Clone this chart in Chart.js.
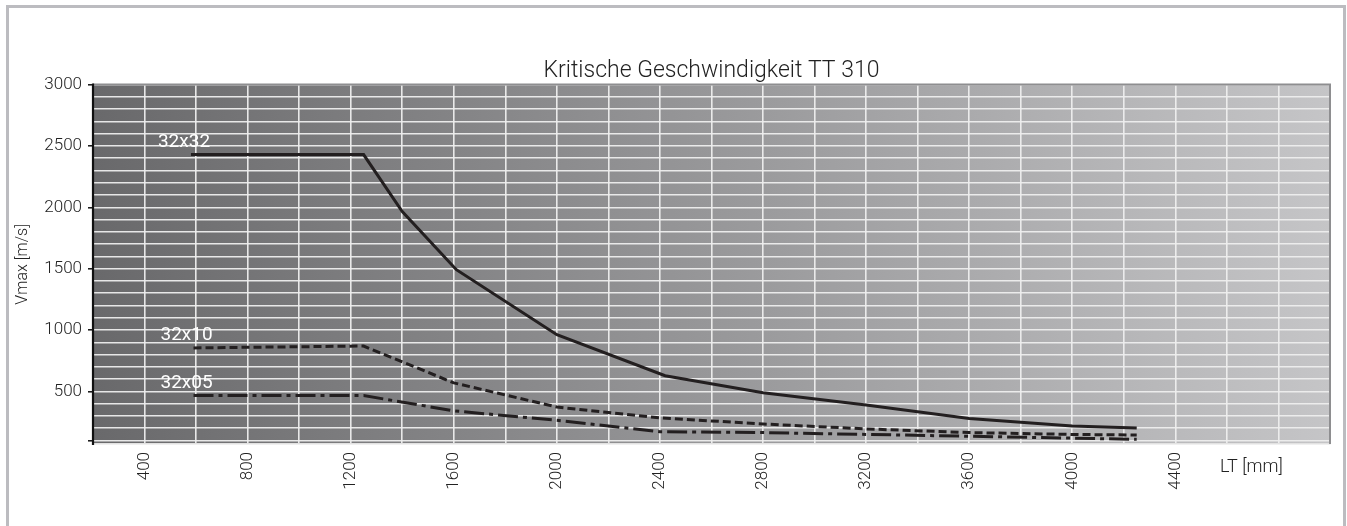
<!DOCTYPE html>
<html><head><meta charset="utf-8">
<script src="https://cdn.jsdelivr.net/npm/chart.js@4.4.1/dist/chart.umd.min.js"></script>
<style>
html,body{margin:0;padding:0;background:#fff;width:1347px;height:526px;overflow:hidden}
#frame{position:absolute;left:6px;top:5px;width:1334px;height:560px;border:3px solid #bcbcc0;border-bottom:none}
#wrap{position:absolute;left:0;top:0;width:1347px;height:526px}
</style></head><body>
<div id="frame"></div>
<div id="wrap"><canvas id="c" width="1347" height="526"></canvas></div>
<script>
// ---- data ----
const chartTitle = 'Kritische Geschwindigkeit TT 310';
const seriesNames = ['32x32', '32x10', '32x05'];
const lt32x32 = [580, 1250, 1400, 1610, 2000, 2420, 2800, 3200, 3600, 4000, 4250];
const v32x32  = [2430, 2430, 1965, 1492, 962, 628, 490, 390, 280, 218, 203];
const lt32x10 = [590, 1250, 1600, 2000, 2400, 2800, 3200, 3600, 4000, 4250];
const v32x10  = [855, 870, 570, 373, 285, 235, 195, 165, 150, 145];
const lt32x05 = [590, 1250, 1600, 2000, 2400, 2800, 3200, 3600, 4000, 4250];
const v32x05  = [467, 467, 342, 265, 172, 165, 150, 135, 120, 110];
const xTickLabels = [400, 800, 1200, 1600, 2000, 2400, 2800, 3200, 3600, 4000, 4400];
const yTickLabels = [500, 1000, 1500, 2000, 2500, 3000];
const xAxisTitle = 'LT [mm]';
const yAxisTitle = 'Vmax [m/s]';

const pts = (xs, ys) => xs.map((x, i) => ({x: x, y: ys[i]}));
const FONT = 'Roboto, "Liberation Sans", sans-serif';
const INK = '#231f20';

const decor = {
  id: 'decor',
  beforeDraw(chart) {
    const {ctx, chartArea: a} = chart;
    const g = ctx.createLinearGradient(a.left, 0, a.right, 0);
    g.addColorStop(0, '#69696b');
    g.addColorStop(1, '#c5c5c7');
    ctx.save();
    ctx.fillStyle = g;
    ctx.fillRect(a.left, a.top, a.right - a.left, a.bottom - a.top);
    ctx.restore();
  },
  afterDatasetsDraw(chart) {
    const {ctx, chartArea: a} = chart;
    ctx.save();
    ctx.strokeStyle = '#8e8e90';
    ctx.lineWidth = 2;
    ctx.beginPath();
    ctx.moveTo(a.left, a.top); ctx.lineTo(a.right, a.top); ctx.lineTo(a.right, a.bottom);
    ctx.stroke();
    ctx.strokeStyle = '#111';
    ctx.lineWidth = 2.2;
    ctx.beginPath();
    ctx.moveTo(a.left, a.top - 1); ctx.lineTo(a.left, a.bottom + 1);
    ctx.stroke();
    ctx.fillStyle = '#ffffff';
    ctx.font = '400 19px ' + FONT;
    ctx.textAlign = 'left';
    ctx.textBaseline = 'alphabetic';
    chart.data.datasets.forEach((ds, i) => {
      const p = chart.getDatasetMeta(i).data[0];
      ctx.fillText(ds.label, p.x - 33, p.y - 8);
    });
    ctx.restore();
  },
  afterDraw(chart) {
    const {ctx, chartArea: a} = chart;
    ctx.save();
    ctx.fillStyle = '#222';
    ctx.font = '300 18px ' + FONT;
    ctx.textAlign = 'left';
    ctx.textBaseline = 'alphabetic';
    ctx.fillText(xAxisTitle, a.right - 110, a.bottom + 28);
    ctx.restore();
  }
};

new Chart(document.getElementById('c'), {
  type: 'line',
  data: {
    datasets: [
      {label: seriesNames[0], data: pts(lt32x32, v32x32), borderColor: INK, borderWidth: 3, pointRadius: 0, tension: 0},
      {label: seriesNames[1], data: pts(lt32x10, v32x10), borderColor: INK, borderWidth: 3, pointRadius: 0, tension: 0, borderDash: [8, 4]},
      {label: seriesNames[2], data: pts(lt32x05, v32x05), borderColor: INK, borderWidth: 3, pointRadius: 0, tension: 0, borderDash: [20, 5, 4, 5]}
    ]
  },
  options: {
    responsive: false,
    animation: false,
    layout: {padding: {left: 0, right: 17, top: 0, bottom: 0}},
    plugins: {
      legend: {display: false},
      tooltip: {enabled: false},
      title: {
        display: true, text: chartTitle, fullSize: false, color: '#222',
        font: {family: FONT, size: 23, weight: '300'},
        padding: {top: 57, bottom: 0}
      }
    },
    scales: {
      x: {
        type: 'linear', min: 200, max: 5000,
        afterBuildTicks(s) { s.ticks = []; for (let v = 200; v <= 5000; v += 200) s.ticks.push({value: v}); },
        afterFit(s) { s.height = 82; s.paddingLeft = 0; s.paddingRight = 0; },
        ticks: {
          autoSkip: false, minRotation: 90, maxRotation: 90, padding: 8, color: '#222',
          font: {family: FONT, size: 17, weight: '300'},
          callback: v => xTickLabels.includes(v) ? String(v) : ''
        },
        grid: {color: 'rgba(238,238,238,0.95)', lineWidth: 1.6, drawTicks: false},
        border: {color: '#e2e2e2', width: 1.5}
      },
      y: {
        type: 'linear', min: 72, max: 3000,
        afterBuildTicks(s) { s.ticks = []; for (let v = 100; v <= 3000; v += 100) s.ticks.push({value: v}); },
        afterFit(s) { s.width = 93; s.paddingTop = 0; s.paddingBottom = 0; },
        ticks: {
          autoSkip: false, padding: 6, color: '#222',
          font: {family: FONT, size: 17, weight: '300'},
          callback: v => yTickLabels.includes(v) ? String(v) : ''
        },
        grid: {
          color: 'rgba(238,238,238,0.95)', lineWidth: 1.6, tickLength: 5, tickWidth: 1.5,
          tickColor: c => (c.tick && (c.tick.value % 500 === 0 || c.tick.value === 100)) ? '#111' : 'rgba(0,0,0,0)'
        },
        border: {color: '#111', width: 2},
        title: {display: true, text: yAxisTitle, color: '#222', font: {family: FONT, size: 16, weight: '300'}, padding: {top: 13, bottom: 0}}
      }
    }
  },
  plugins: [decor]
});
</script>
</body></html>
